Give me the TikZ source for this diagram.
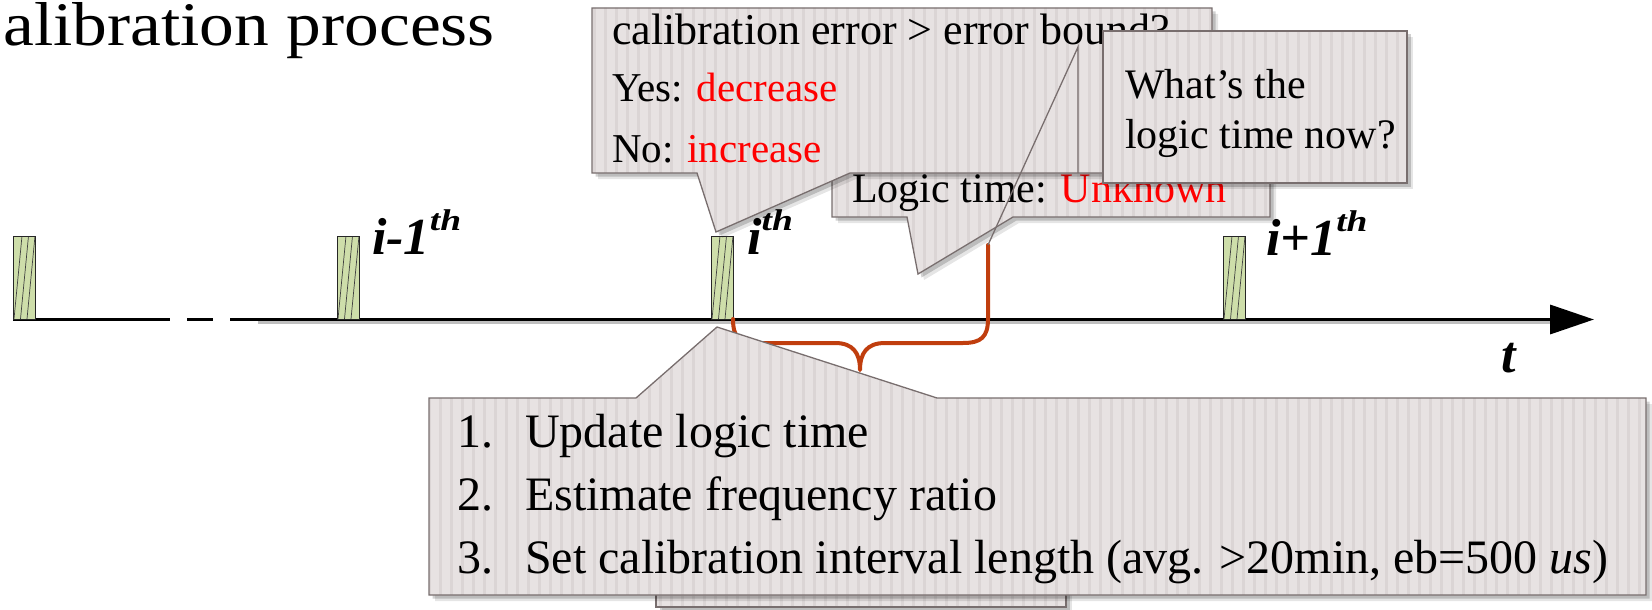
\documentclass[tikz,border=0pt]{standalone}
\usepackage{fontspec}
\setmainfont{Liberation Serif}
\newfontfamily\titlefont[FakeStretch=1.12]{Liberation Serif}
\usetikzlibrary{arrows.meta,patterns.meta,shadows}
\definecolor{bubblefill}{RGB}{231,226,226}
\definecolor{stripecol}{RGB}{219,213,213}
\definecolor{bordercol}{RGB}{120,110,110}
\definecolor{pulsegreen}{RGB}{206,222,170}
\definecolor{bracecol}{RGB}{192,62,14}
\definecolor{alertred}{RGB}{255,0,0}
\newcommand\supth{\raisebox{24pt}{\scalebox{1.25}[1]{\fontsize{30}{30}\selectfont th}}}
\tikzset{
  bubble/.style={
    drop shadow={shadow xshift=6pt,shadow yshift=-6pt,opacity=.1,fill=black},
    drop shadow={shadow xshift=3.5pt,shadow yshift=-3.5pt,opacity=.18,fill=black},
    preaction={fill=bubblefill},
    pattern={Lines[angle=90,distance=11pt,line width=3pt]}, pattern color=stripecol,
    draw=bordercol, line width=1.3pt},
  leader/.style={draw=bordercol, line width=1.3pt},
  axisline/.style={line width=3.5pt, black},
  axisshade/.style={line width=2.5pt, black!25},
  pulse/.style={draw=black!85, line width=.8pt, fill=pulsegreen,
    minimum width=22pt, minimum height=83pt, inner sep=0pt, outer sep=0pt,
    anchor=south west,
    path picture={
      \foreach \k in {0,1,2}
        \draw[line width=.7pt, black!75]
          ([xshift={(1+6.5*\k)*1pt}]path picture bounding box.south west) --
          ([xshift={(9+6.5*\k)*1pt}]path picture bounding box.north west);
    }},
  lbl/.style={anchor=base west, inner sep=0pt, font=\fontsize{52}{52}\selectfont\bfseries\itshape},
  txt/.style={anchor=base west, inner sep=0pt},
  brace/.style={draw=bracecol, line width=4pt, line cap=round, line join=round},
}
\begin{document}
\begin{tikzpicture}[x=1pt,y=-1pt]
\useasboundingbox (0,0) rectangle (1652,610);

% title
\node[txt, font=\titlefont\fontsize{62}{62}\selectfont] (title) at (3,46) {alibration process};

% time axis
\coordinate (a0) at (13,319.5);
\coordinate (a1) at (170,319.5);
\coordinate (d0) at (187,319.5);
\coordinate (d1) at (213,319.5);
\coordinate (a2) at (230,319.5);
\coordinate (aend) at (1594,319.5);
\coordinate (s0) at (258,322.5);
\coordinate (s1) at (1552,322.5);
\draw[axisshade] (s0) -- (s1);
\draw[axisline] (a0) -- (a1);
\draw[axisline] (d0) -- (d1);
\draw[axisline, -{Triangle[length=44pt,width=29pt]}] (a2) -- (aend);

% pulses
\node[pulse] (p0) at (13,319) {};
\node[pulse] (p1) at (337,319) {};
\node[pulse] (p2) at (711,319) {};
\node[pulse] (p3) at (1223,319) {};

% labels
\node[lbl] (lm1) at (372,254) {i-1\supth};
\node[lbl] (li) at (747,254) {i\supth};
\node[lbl] (lp1) at (1266,255) {i+1\supth};
\node[lbl] (tl) at (1501,372) {t};

% brace
\coordinate (bt) at (988,245);
\draw[brace] (p2.south east) .. controls +(0,18) and (739,343) .. (757,343)
  -- (835,343) .. controls (853,343) and (860,353) .. (860,370)
  .. controls (860,353) and (867,343) .. (885,343)
  -- (963,343) .. controls (981,343) and (988,337) .. (988,319) -- (bt);

% "Logic time" callout
\draw[bubble] (832,150) -- (1270,150) -- (1270,217) -- (1013,217) -- (918,274)
  -- (907,217) -- (832,217) -- cycle;
\node[txt, font=\fontsize{42}{42}\selectfont] (lt) at (852,202)
  {Logic time: \textcolor{alertred}{Unknown}};

% calibration error callout
\draw[bubble] (592,8) -- (1212,8) -- (1212,173) -- (850,173) -- (716,232)
  -- (697,173) -- (592,173) -- cycle;
\node[txt, font=\fontsize{44}{44}\selectfont] (ce1) at (612,45) {calibration error > error bound?};
\node[txt, font=\fontsize{41}{41}\selectfont] (ce2) at (612,102) {Yes: \textcolor{alertred}{decrease}};
\node[txt, font=\fontsize{41}{41}\selectfont] (ce3) at (612,162) {No: \textcolor{alertred}{increase}};

% "What's the logic time now?" callout
\draw[bubble] (1103,31) rectangle (1407,183);
\node[txt, font=\fontsize{42}{42}\selectfont] (wq1) at (1125,98) {What’s the};
\node[txt, font=\fontsize{42}{42}\selectfont] (wq2) at (1125,148) {logic time now?};
\coordinate (acb) at (1078,173);
\coordinate (act) at (1078,47);
\draw[leader] (acb) -- (act) -- (bt);

% box behind the bottom callout
\draw[bubble] (656,420) rectangle (1066,607);

% bottom callout
\draw[bubble] (429,398) -- (636,398) -- (717,327) -- (937,398) -- (1646,398)
  -- (1646,595) -- (429,595) -- cycle;
\node[txt, font=\fontsize{48}{48}\selectfont] (n1) at (457,447) {1.};
\node[txt, font=\fontsize{48}{48}\selectfont] (s1t) at (525,447) {Update logic time};
\node[txt, font=\fontsize{48}{48}\selectfont] (n2) at (457,510) {2.};
\node[txt, font=\fontsize{48}{48}\selectfont] (s2t) at (525,510) {Estimate frequency ratio};
\node[txt, font=\fontsize{48}{48}\selectfont] (n3) at (457,573) {3.};
\node[txt, font=\fontsize{48}{48}\selectfont] (s3t) at (525,573)
  {Set calibration interval length (avg. >20min, eb=500 \textit{us})};
\end{tikzpicture}
\end{document}
